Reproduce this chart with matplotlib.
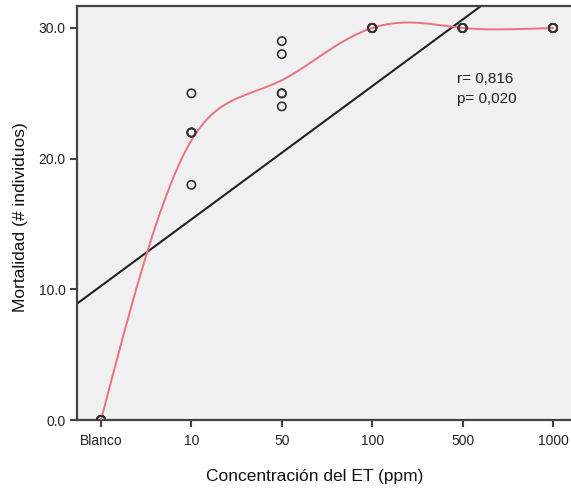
import numpy as np
import matplotlib
matplotlib.use("Agg")
import matplotlib.pyplot as plt

# ---- data ----
categories = ["Blanco", "10", "50", "100", "500", "1000"]
blanco = [0, 0, 0, 0, 0]
c10 = [25, 22, 22, 22, 18]
c50 = [29, 28, 25, 25, 24]
c100 = [30, 30, 30, 30, 30]
c500 = [30, 30, 30, 30, 30]
c1000 = [30, 30, 30, 30, 30]
groups = [blanco, c10, c50, c100, c500, c1000]

# Loess-like fit curve (category position, value)
curve_pos = [0, 0.5, 1, 1.5, 2, 2.5, 3, 3.5, 4, 4.5, 5]
curve_val = [0, 12.6, 21.4, 24.6, 26.0, 28.2, 30.0, 30.4, 30.0, 29.9, 30.0]

stats_text = "r= 0,816\np= 0,020"
yticks = [0, 10, 20, 30]


def natural_spline(xk, yk, xs):
    xk = np.asarray(xk, float)
    yk = np.asarray(yk, float)
    n = len(xk)
    h = np.diff(xk)
    A = np.zeros((n, n))
    b = np.zeros(n)
    A[0, 0] = A[-1, -1] = 1
    for i in range(1, n - 1):
        A[i, i - 1] = h[i - 1]
        A[i, i] = 2 * (h[i - 1] + h[i])
        A[i, i + 1] = h[i]
        b[i] = 3 * ((yk[i + 1] - yk[i]) / h[i] - (yk[i] - yk[i - 1]) / h[i - 1])
    c = np.linalg.solve(A, b)
    out = np.empty_like(xs)
    for j, x in enumerate(xs):
        i = min(max(np.searchsorted(xk, x) - 1, 0), n - 2)
        dx = x - xk[i]
        bi = (yk[i + 1] - yk[i]) / h[i] - h[i] * (2 * c[i] + c[i + 1]) / 3
        di = (c[i + 1] - c[i]) / (3 * h[i])
        out[j] = yk[i] + bi * dx + c[i] * dx ** 2 + di * dx ** 3
    return out


plt.rcParams['font.family'] = ['Liberation Sans', 'DejaVu Sans']

fig = plt.figure(figsize=(5.71, 4.94), dpi=100)
W, H = 571, 494
left_px, right_px, top_px, bot_px = 76.5, 578, 6.5, 420
ax = fig.add_axes([left_px / W, 1 - bot_px / H, (right_px - left_px) / W, (bot_px - top_px) / H])
ax.set_facecolor("#f0f0f0")

xs_all = []
ys_all = []
for i, g in enumerate(groups):
    xs_all += [i] * len(g)
    ys_all += g
xs_all = np.array(xs_all, float)
ys_all = np.array(ys_all, float)

# linear fit
slope, intercept = np.polyfit(xs_all, ys_all, 1)
xl = np.array([-1, 6])
ax.plot(xl, intercept + slope * xl, color="#222222", lw=1.5, zorder=2)

# smooth curve
xx = np.linspace(0, 5, 400)
ax.plot(xx, natural_spline(curve_pos, curve_val, xx), color="#e8737f", lw=1.4, zorder=3)

# points
ax.scatter(xs_all, ys_all, s=36, facecolors="none", edgecolors="#333333",
           linewidths=1.2, zorder=4)

ax.text(3.94, 26.6, stats_text, fontsize=11, color="#222222", va="top",
        ha="left", linespacing=1.5)

px_per_cat = 90.4
x0_px = 101
ax.set_xlim((left_px - x0_px) / px_per_cat, (right_px - x0_px) / px_per_cat)
ax.set_ylim(0, 30 + (28 - top_px) / 13.07)

ax.set_xticks(range(len(categories)))
ax.set_xticklabels(categories)
ax.set_yticks(yticks)
ax.set_yticklabels([f"{v:.1f}" for v in yticks])
ax.tick_params(axis="both", direction="out", length=5, width=1.5, color="#444444",
               labelsize=10, labelcolor="#222222", pad=3)
ax.tick_params(axis="x", pad=5)

for s in ["left", "bottom", "top", "right"]:
    ax.spines[s].set_color("#444444")
    ax.spines[s].set_linewidth(1.6)

ax.set_xlabel("Concentración del ET (ppm)", fontsize=12.5, color="#111111")
ax.set_ylabel("Mortalidad (# individuos)", fontsize=12.5, color="#111111")
ax.xaxis.set_label_coords((315 - left_px) / (right_px - left_px), -(469 - bot_px) / (bot_px - top_px), transform=ax.transAxes)
ax.yaxis.set_label_coords(-(left_px - 28) / (right_px - left_px), 0.49, transform=ax.transAxes)

fig.savefig("out.png", dpi=100, facecolor="white")
